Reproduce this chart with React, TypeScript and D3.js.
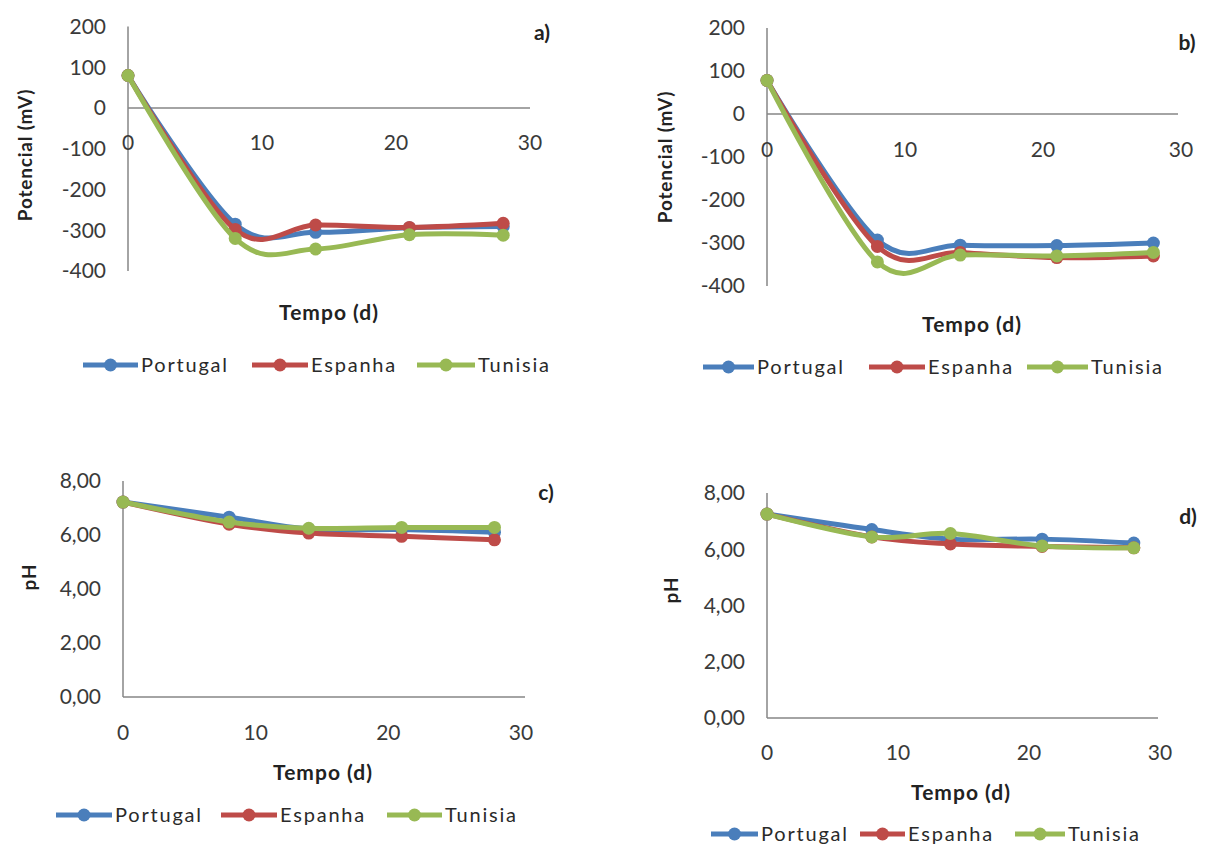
import React from 'react';
import * as d3 from 'd3';

// sampling days
const days = [0, 8, 14, 21, 28];

const seriesNames = ['Portugal', 'Espanha', 'Tunisia'];
const seriesColors = ['#4A7EBB', '#BE4B48', '#98B954'];

// a) potencial (mV)
const potA_Portugal = [80, -285, -305, -294, -291];
const potA_Espanha = [80, -298, -287, -293, -283];
const potA_Tunisia = [80, -320, -346, -311, -312];

// b) potencial (mV)
const potB_Portugal = [78, -293, -305, -306, -300];
const potB_Espanha = [78, -308, -322, -334, -330];
const potB_Tunisia = [78, -344, -328, -330, -322];

// c) pH
const phC_Portugal = [7.22, 6.66, 6.22, 6.2, 6.1];
const phC_Espanha = [7.22, 6.4, 6.07, 5.95, 5.82];
const phC_Tunisia = [7.22, 6.48, 6.25, 6.28, 6.28];

// d) pH
const phD_Portugal = [7.25, 6.7, 6.36, 6.36, 6.22];
const phD_Espanha = [7.25, 6.44, 6.19, 6.1, 6.05];
const phD_Tunisia = [7.25, 6.44, 6.56, 6.12, 6.05];

const xTicks = [0, 10, 20, 30];
const potTicks = [200, 100, 0, -100, -200, -300, -400];
const phTicks = [8, 6, 4, 2, 0];

const FONT = 'Lato, "Open Sans", sans-serif';

const panels = [
  {
    tag: 'a)', series: [potA_Portugal, potA_Espanha, potA_Tunisia],
    yDomain: [-400, 200], ticks: potTicks, fmt: (v: number) => String(v), yTitle: 'Potencial (mV)',
    x0: 128, x30: 530, yBottom: 271, yTop: 26.6, axisEnd: 530, xLabelY: 143,
    yTitlePos: [25, 155], xTitlePos: [329, 313], tagPos: [542, 33],
    legendY: 365, legend: [[83, 138], [252, 308], [417, 475]],
  },
  {
    tag: 'b)', series: [potB_Portugal, potB_Espanha, potB_Tunisia],
    yDomain: [-400, 200], ticks: potTicks, fmt: (v: number) => String(v), yTitle: 'Potencial (mV)',
    x0: 767, x30: 1181, yBottom: 286, yTop: 28, axisEnd: 1178, xLabelY: 150,
    yTitlePos: [665, 157], xTitlePos: [972, 325], tagPos: [1187, 43],
    legendY: 367, legend: [[703, 754], [869, 925], [1027, 1088]],
  },
  {
    tag: 'c)', series: [phC_Portugal, phC_Espanha, phC_Tunisia],
    yDomain: [0, 8], ticks: phTicks, fmt: (v: number) => d3.format('.2f')(v).replace('.', ','), yTitle: 'pH',
    x0: 123, x30: 521, yBottom: 697, yTop: 481, axisEnd: 525, xLabelY: 733,
    yTitlePos: [29, 577], xTitlePos: [323, 773], tagPos: [546, 493],
    legendY: 815, legend: [[56, 112], [221, 277], [387, 442]],
  },
  {
    tag: 'd)', series: [phD_Portugal, phD_Espanha, phD_Tunisia],
    yDomain: [0, 8], ticks: phTicks, fmt: (v: number) => d3.format('.2f')(v).replace('.', ','), yTitle: 'pH',
    x0: 767, x30: 1160, yBottom: 718, yTop: 493, axisEnd: 1158, xLabelY: 753,
    yTitlePos: [671, 590], xTitlePos: [961, 793], tagPos: [1188, 517],
    legendY: 834, legend: [[711, 758], [860, 905], [1015, 1065]],
  },
];

function Panel({ p }: { p: any }) {
  const x = d3.scaleLinear().domain([0, 30]).range([p.x0, p.x30]);
  const y = d3.scaleLinear().domain(p.yDomain).range([p.yBottom, p.yTop]);
  const line = d3.line<number>()
    .x((_, i) => x(days[i]))
    .y(d => y(d))
    .curve(d3.curveCatmullRom.alpha(0));

  return (
    <g fontFamily={FONT}>
      {/* axes */}
      <line x1={x(0)} x2={x(0)} y1={y(p.yDomain[1])} y2={y(p.yDomain[0])} stroke="#868686" strokeWidth={1.5} />
      <line x1={x(0)} x2={p.axisEnd} y1={y(0)} y2={y(0)} stroke="#868686" strokeWidth={1.5} />

      {p.ticks.map((t: number) => (
        <text key={'y' + t} x={x(0) - 22} y={y(t)} dy="0.35em" textAnchor="end" fontSize={21} fill="#3a3a3a">
          {p.fmt(t)}
        </text>
      ))}
      {xTicks.map(t => (
        <text key={'x' + t} x={x(t)} y={p.xLabelY} dy="0.35em" textAnchor="middle" fontSize={21} fill="#3a3a3a">
          {t}
        </text>
      ))}

      {/* series */}
      {p.series.map((s: number[], i: number) => (
        <g key={seriesNames[i]}>
          <path d={line(s) || ''} fill="none" stroke={seriesColors[i]} strokeWidth={5} strokeLinejoin="round" />
          {s.map((v, j) => (
            <circle key={j} cx={x(days[j])} cy={y(v)} r={6.5} fill={seriesColors[i]} />
          ))}
        </g>
      ))}

      {/* titles */}
      <text transform={`translate(${p.yTitlePos[0]},${p.yTitlePos[1]}) rotate(-90)`} dy="0.35em" textAnchor="middle"
        fontSize={19} fontWeight="bold" letterSpacing={0.8} fill="#222">{p.yTitle}</text>
      <text x={p.xTitlePos[0]} y={p.xTitlePos[1]} dy="0.35em" textAnchor="middle" fontSize={21} fontWeight="bold"
        letterSpacing={1} fill="#222">Tempo (d)</text>
      <text x={p.tagPos[0]} y={p.tagPos[1]} dy="0.35em" textAnchor="middle" fontSize={21} fontWeight="bold" fill="#222">
        {p.tag}
      </text>

      {/* legend */}
      {p.legend.map((l: number[], i: number) => (
        <g key={'lg' + i}>
          <line x1={l[0]} x2={l[1]} y1={p.legendY} y2={p.legendY} stroke={seriesColors[i]} strokeWidth={5} />
          <circle cx={(l[0] + l[1]) / 2} cy={p.legendY} r={6.5} fill={seriesColors[i]} />
          <text x={l[1] + 3} y={p.legendY} dy="0.35em" fontSize={20} letterSpacing={1.8} fill="#2a2a2a">
            {seriesNames[i]}
          </text>
        </g>
      ))}
    </g>
  );
}

export default function App() {
  return (
    <svg width={1205} height={845} style={{ position: 'absolute', left: 0, top: 0, background: '#fff' }}>
      {panels.map(p => <Panel key={p.tag} p={p} />)}
    </svg>
  );
}
